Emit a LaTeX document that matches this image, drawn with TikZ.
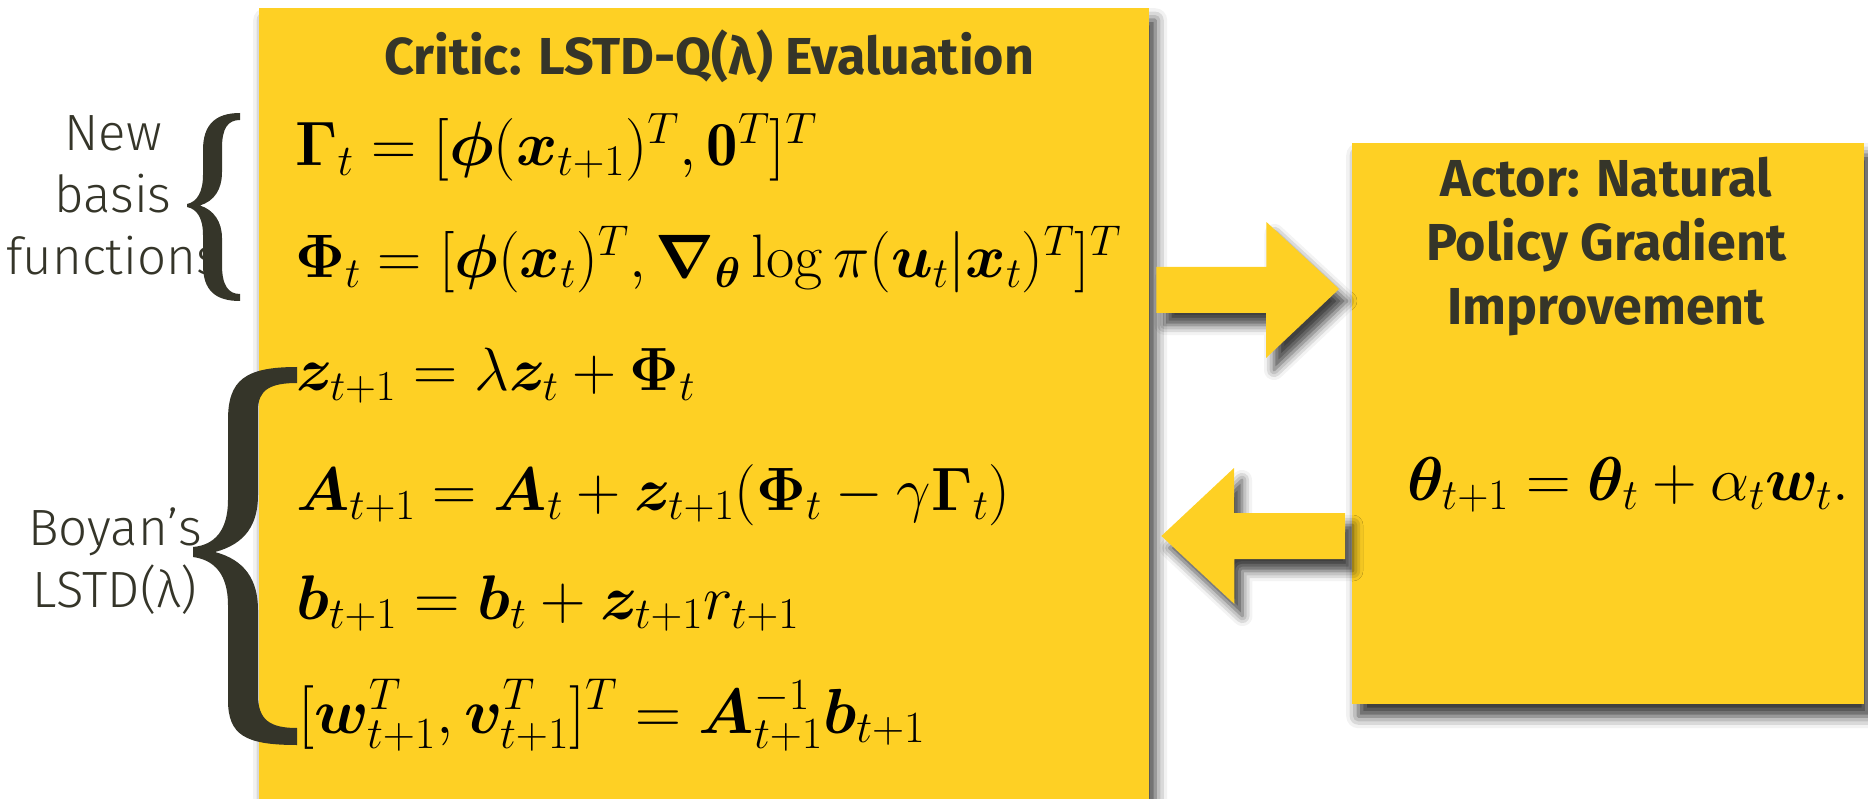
\RequirePackage{fix-cm}
\documentclass[tikz,border=0pt]{standalone}
\usepackage{amsmath,bm,graphicx}
\usepackage{fontspec}
\usepackage{tikz}
\usetikzlibrary{positioning,calc,shadows.blur}
\definecolor{panelyellow}{RGB}{254,208,36}
\definecolor{ink}{RGB}{53,53,41}
\newfontfamily\headfont{Fira Sans}
\newfontfamily\notefont{Fira Sans Light}
\newcommand{\eqfit}[2]{\resizebox{#1}{!}{$#2$}}

\begin{document}
\begin{tikzpicture}[x=1pt, y=-1pt,
		panel/.style={fill=panelyellow, inner sep=0pt, anchor=north west,
				blur shadow={shadow xshift=6pt, shadow yshift=-12pt,
						shadow blur radius=12pt, shadow opacity=80}},
		heading/.style={font=\headfont\bfseries\fontsize{52}{64}\selectfont,
				text=ink, align=center, inner sep=0pt},
		note/.style={font=\notefont\fontsize{51}{62}\selectfont, text=ink,
				align=center, inner sep=0pt},
		eq/.style={font=\fontsize{50}{60}\selectfont, inner sep=0pt,
				anchor=base west},
		blockarr/.style={fill=panelyellow,
				blur shadow={shadow xshift=8pt, shadow yshift=-12pt,
						shadow blur radius=10pt, shadow opacity=75}},
		brace/.style={fill=ink}
		]
		\useasboundingbox (0,0) rectangle (1868,799);
		\node[panel, minimum width=890pt, minimum height=830pt] (critic) at (259,8) {};
		\node[panel, minimum width=512pt, minimum height=561pt] (actor) at (1352,143) {};
		\node[heading, anchor=base] (critictitle) at ($(critic.north)+(5,67)$)
		{Critic: LSTD-Q(λ) Evaluation};
		\node[heading, anchor=base] (actortitle) at ($(actor.north)+(-2,182)$)
		{Actor: Natural\\Policy Gradient\\Improvement};
		% block arrows between the two panels
		\fill[blockarr] ([xshift=7pt]critic.east |- 0,267) -- ++(110,0) -- ++(0,-45)
		-- ([xshift=-13pt]actor.west |- 0,289) -- ++(-73,69) -- ++(0,-45)
		-- ([xshift=7pt]critic.east |- 0,313) -- cycle;
		\fill[blockarr] ([xshift=-7pt]actor.west |- 0,513) -- ++(-111,0) -- ++(0,-45)
		-- ([xshift=12pt]critic.east |- 0,536) -- ++(73,68) -- ++(0,-45)
		-- ([xshift=-7pt]actor.west |- 0,559) -- cycle;
		\node[note, anchor=base] (newbasis) at (113,275) {New\\basis\\functions};
		\node[note, anchor=base] (boyan) at (115,607) {Boyan’s\\LSTD(λ)};
		% braces
		\fill[brace] (240,113) .. controls (215,113) and (203,125) .. (203,150)
		-- (203,175) .. controls (203,192) and (197,202) .. (187,204) -- (187,207)
		.. controls (197,209) and (203,218) .. (203,235) -- (203,265)
		.. controls (203,290) and (215,301) .. (240,301) -- (240,294)
		.. controls (228,294) and (222,285) .. (222,265) -- (222,238)
		.. controls (222,222) and (214,210) .. (200,205.5)
		.. controls (214,201) and (222,190) .. (222,172) -- (222,148)
		.. controls (222,128) and (228,120) .. (240,120) -- cycle;
		\fill[brace] (297,367) .. controls (245,367) and (228,380) .. (228,420)
		-- (228,500) .. controls (228,530) and (215,545) .. (193,547) -- (193,557)
		.. controls (215,560) and (228,575) .. (228,605) -- (228,700)
		.. controls (228,735) and (245,745) .. (297,745) -- (297,728)
		.. controls (270,728) and (258,720) .. (258,695) -- (258,610)
		.. controls (258,580) and (245,560) .. (215,552)
		.. controls (245,544) and (258,525) .. (258,495) -- (258,410)
		.. controls (258,390) and (270,383) .. (297,383) -- cycle;
		% critic equations
		\node[eq] (gammaeq) at ($(critic.north west)+(36,158)$)
		{\eqfit{522pt}{\bm{\Gamma}_t = [\bm{\phi}(\bm{x}_{t+1})^T, \mathbf{0}^T]^T}};
		\node[eq] (phieq) at ($(critic.north west)+(36,270)$)
		{\eqfit{826pt}{\bm{\Phi}_t = [\bm{\phi}(\bm{x}_t)^T, \bm{\nabla}_{\bm{\theta}} \log \pi(\bm{u}_t|\bm{x}_t)^T]^T}};
		\node[eq] (zeq) at ($(critic.north west)+(37,383)$)
		{\eqfit{399pt}{\bm{z}_{t+1} = \lambda \bm{z}_t + \bm{\Phi}_t}};
		\node[eq] (aeq) at ($(critic.north west)+(37,502)$)
		{\eqfit{714pt}{\bm{A}_{t+1} = \bm{A}_t + \bm{z}_{t+1}(\bm{\Phi}_t - \gamma \bm{\Gamma}_t)}};
		\node[eq] (beq) at ($(critic.north west)+(37,611)$)
		{\eqfit{503pt}{\bm{b}_{t+1} = \bm{b}_t + \bm{z}_{t+1} r_{t+1}}};
		\node[eq] (weq) at ($(critic.north west)+(39,725)$)
		{\eqfit{627pt}{[\bm{w}_{t+1}^T, \bm{v}_{t+1}^T]^T = \bm{A}_{t+1}^{-1} \bm{b}_{t+1}}};
		% actor update
		\node[eq] (thetaeq) at ($(actor.north west)+(55,357)$)
		{\eqfit{442pt}{\bm{\theta}_{t+1} = \bm{\theta}_t + \alpha_t \bm{w}_t.}};
	\end{tikzpicture}
\end{document}
